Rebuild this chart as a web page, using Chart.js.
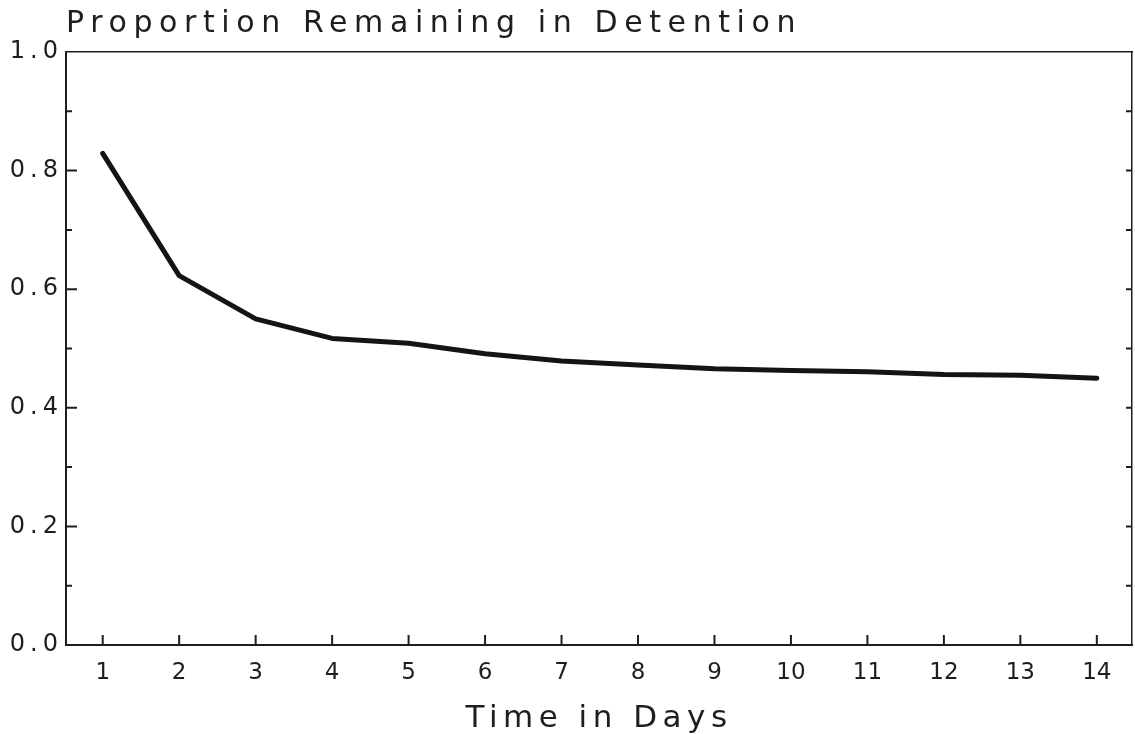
<!DOCTYPE html>
<html>
<head>
<meta charset="utf-8">
<script src="https://cdn.jsdelivr.net/npm/chart.js@4"></script>
<style>html,body{margin:0;padding:0;background:#fff;}canvas{display:block;}</style>
</head>
<body>
<canvas id="c" width="1135" height="734"></canvas>
<script>
// ---- data ----
const days = [1, 2, 3, 4, 5, 6, 7, 8, 9, 10, 11, 12, 13, 14];
const proportion = [0.829, 0.623, 0.550, 0.517, 0.509, 0.491, 0.479, 0.472, 0.466, 0.463, 0.461, 0.456, 0.455, 0.450];
const xTickLabels = ['1', '2', '3', '4', '5', '6', '7', '8', '9', '10', '11', '12', '13', '14'];
const yTickValues = [0.0, 0.2, 0.4, 0.6, 0.8, 1.0];
const yTickLabels = ['0.0', '0.2', '0.4', '0.6', '0.8', '1.0'];
const yMajorTicks = [0.2, 0.4, 0.6, 0.8];
const yMinorTicks = [0.1, 0.3, 0.5, 0.7, 0.9];
const rightTicks = [0.1, 0.2, 0.3, 0.4, 0.5, 0.6, 0.7, 0.8, 0.9];
const chartTitle = 'Proportion Remaining in Detention';
const xAxisTitle = 'Time in Days';

const INK = '#1e1e1e';
const FONT = "'DejaVu Sans', 'Liberation Sans', sans-serif";
const LABEL_SPACING = {x: '0px', y: '5px'};
const TITLE_SPACING = {x: '5.5px', y: '0px'};

class SpacedLinearScale extends Chart.LinearScale {
  drawLabels(area) {
    const ctx = this.ctx;
    ctx.save();
    ctx.letterSpacing = LABEL_SPACING[this.id] || '0px';
    super.drawLabels(area);
    ctx.restore();
  }
  drawTitle() {
    const ctx = this.ctx;
    ctx.save();
    ctx.letterSpacing = TITLE_SPACING[this.id] || '0px';
    super.drawTitle();
    ctx.restore();
  }
}
SpacedLinearScale.id = 'spacedLinear';
SpacedLinearScale.defaults = {ticks: {callback: Chart.Ticks.formatters.numeric}};
Chart.register(SpacedLinearScale);

const plotterLook = {
  id: 'plotterLook',
  beforeDraw(chart) {
    chart.ctx.letterSpacing = '6.6px';
  },
  afterDraw(chart) {
    const {ctx, chartArea: a, scales: {x, y}} = chart;
    ctx.save();
    ctx.letterSpacing = '0px';
    ctx.strokeStyle = INK;
    ctx.lineWidth = 2;
    ctx.beginPath();
    yMajorTicks.forEach(v => { const p = y.getPixelForValue(v); ctx.moveTo(a.left, p); ctx.lineTo(a.left + 11, p); });
    yMinorTicks.forEach(v => { const p = y.getPixelForValue(v); ctx.moveTo(a.left, p); ctx.lineTo(a.left + 6, p); });
    rightTicks.forEach(v => { const p = y.getPixelForValue(v); ctx.moveTo(a.right, p); ctx.lineTo(a.right - 6, p); });
    days.forEach(d => { const p = x.getPixelForValue(d); ctx.moveTo(p, a.bottom); ctx.lineTo(p, a.bottom - 10); });
    ctx.stroke();
    ctx.restore();
  }
};

new Chart(document.getElementById('c'), {
  type: 'line',
  data: {
    datasets: [{
      data: days.map((d, i) => ({x: d, y: proportion[i]})),
      borderColor: '#141414',
      borderWidth: 5,
      pointRadius: 0,
      tension: 0,
      fill: false,
      borderJoinStyle: 'round',
      borderCapStyle: 'round'
    }]
  },
  options: {
    responsive: false,
    animation: false,
    layout: {padding: {left: 0, right: 3, top: 0, bottom: 0}},
    plugins: {
      legend: {display: false},
      tooltip: {enabled: false},
      title: {
        display: true,
        text: chartTitle,
        align: 'start',
        fullSize: false,
        color: INK,
        font: {family: FONT, size: 30, weight: 'normal', lineHeight: 1.2},
        padding: {top: 6.5, bottom: 9.5}
      }
    },
    scales: {
      x: {
        type: 'spacedLinear',
        position: 'bottom',
        min: 0.52,
        max: 14.46,
        afterBuildTicks: s => { s.ticks = days.map(v => ({value: v})); },
        afterFit: s => { s.height = 89; },
        grid: {display: false, drawTicks: false},
        border: {display: true, color: INK, width: 2},
        ticks: {
          color: INK,
          padding: 14,
          maxRotation: 0,
          autoSkip: false,
          font: {family: FONT, size: 23},
          callback: (v, i) => xTickLabels[i]
        },
        title: {
          display: true,
          text: xAxisTitle,
          color: INK,
          font: {family: FONT, size: 31, lineHeight: 1.0},
          padding: {top: 0, bottom: 0}
        }
      },
      y: {
        type: 'spacedLinear',
        position: 'left',
        min: 0,
        max: 1,
        afterBuildTicks: s => { s.ticks = yTickValues.map(v => ({value: v})); },
        afterFit: s => { s.width = 66; },
        grid: {display: false, drawTicks: false},
        border: {display: true, color: INK, width: 2},
        ticks: {
          color: INK,
          padding: 3,
          font: {family: FONT, size: 24},
          callback: (v, i) => yTickLabels[i]
        }
      },
      x2: {
        type: 'linear',
        position: 'top',
        afterFit: s => { s.height = 0; },
        grid: {display: false, drawTicks: false},
        border: {display: true, color: INK, width: 1.5},
        ticks: {display: false}
      },
      y2: {
        type: 'linear',
        position: 'right',
        min: 0,
        max: 1,
        afterFit: s => { s.width = 0; },
        grid: {display: false, drawTicks: false},
        border: {display: true, color: INK, width: 1.5},
        ticks: {display: false}
      }
    }
  },
  plugins: [plotterLook]
});
</script>
</body>
</html>
